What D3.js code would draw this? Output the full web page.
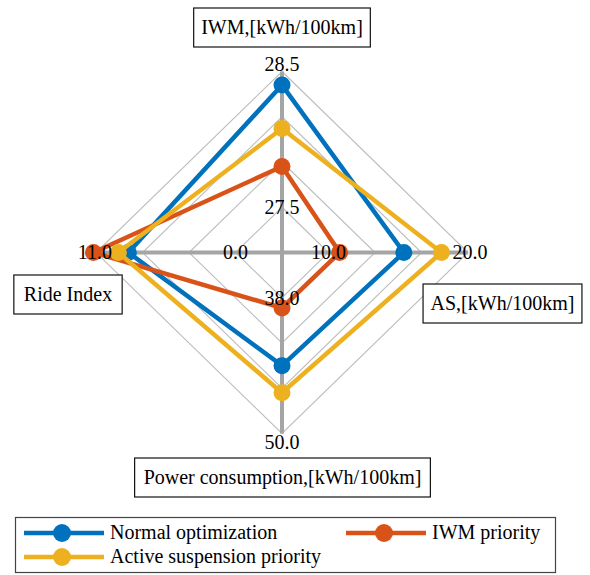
<!DOCTYPE html>
<html>
<head>
<meta charset="utf-8">
<script src="https://cdn.jsdelivr.net/npm/d3@7"></script>
<style>
  html, body { margin: 0; padding: 0; background: #fff; }
  svg { display: block; }
  text { font-family: "Liberation Serif", "Times New Roman", serif; fill: #000; }
</style>
</head>
<body>
<svg id="chart" width="590" height="575"></svg>
<script>
// Axes of the spider chart (clockwise from top)
const axisNames = ["IWM,[kWh/100km]", "AS,[kWh/100km]", "Power consumption,[kWh/100km]", "Ride Index"];
const axisMin = [27.5, 10.0, 38.0, 0.0];
const axisMax = [28.5, 20.0, 50.0, 11.0];

// Series values, one per axis in the order above
const seriesNames = ["Normal optimization", "IWM priority", "Active suspension priority"];
const normalOpt = [28.40, 15.4, 44.0, 8.45];
const iwmPriority = [27.80, 10.8, 38.9, 11.2];
const activeSusp = [28.08, 18.1, 46.4, 9.24];
const seriesColors = ["#0072BD", "#D95319", "#EDB120"];

const svg = d3.select("#chart");
const cx = 282, cy = 252.5;
const rx = 186, ry = 181;          // outer ring half-widths
const nRings = 4;                  // ring 1 = axis min, ring 4 = axis max
const angles = [-Math.PI / 2, 0, Math.PI / 2, Math.PI];

// Normalized radius (0..1) scale per axis: min sits on the first ring
const rScales = axisMin.map((mn, i) =>
  d3.scaleLinear().domain([mn, axisMax[i]]).range([1 / nRings, 1]));

const pt = (i, frac) => [cx + Math.cos(angles[i]) * rx * frac,
                         cy + Math.sin(angles[i]) * ry * frac];

const grid = svg.append("g");
// Rings
for (let k = 1; k <= nRings; k++) {
  const pts = angles.map((a, i) => pt(i, k / nRings));
  grid.append("path")
    .attr("d", d3.line()(pts) + "Z")
    .attr("fill", "none")
    .attr("stroke", "#bdbdbd")
    .attr("stroke-width", 1.1);
}
// Spokes
angles.forEach((a, i) => {
  const [x, y] = pt(i, 1);
  grid.append("line")
    .attr("x1", cx).attr("y1", cy).attr("x2", x).attr("y2", y)
    .attr("stroke", "#a5a5a5").attr("stroke-width", 4);
});

// Series polygons and markers
const allSeries = [normalOpt, iwmPriority, activeSusp];
const lineGen = d3.line().curve(d3.curveLinearClosed);
allSeries.forEach((vals, s) => {
  const pts = vals.map((v, i) => pt(i, rScales[i](v)));
  const g = svg.append("g");
  g.append("path")
    .attr("d", lineGen(pts))
    .attr("fill", "none")
    .attr("stroke", seriesColors[s])
    .attr("stroke-width", 4.5)
    .attr("stroke-linejoin", "miter");
  g.selectAll("circle").data(pts).join("circle")
    .attr("cx", d => d[0]).attr("cy", d => d[1])
    .attr("r", 8.5)
    .attr("fill", seriesColors[s]);
});

// Tick labels (min on first ring, max on outer ring)
const tickG = svg.append("g").attr("font-size", 20);
const outerPad = [7, 2, 9, 1];
angles.forEach((a, i) => {
  const f = d3.format(".1f");
  const [ix, iy] = pt(i, 1 / nRings);
  tickG.append("text").attr("x", ix).attr("y", iy).attr("dy", "0.34em")
    .attr("text-anchor", "middle").text(f(axisMin[i]));
  const [ox, oy] = pt(i, 1);
  tickG.append("text")
    .attr("x", ox + Math.cos(a) * outerPad[i])
    .attr("y", oy + Math.sin(a) * outerPad[i])
    .attr("dy", "0.34em")
    .attr("text-anchor", "middle").text(f(axisMax[i]));
});

// Boxed axis names
const namePos = [[282, 27.5], [502.5, 303.5], [282.5, 477.5], [68, 294.5]];
const namePadX = [7.5, 7.5, 9, 10];
axisNames.forEach((name, i) => {
  const g = svg.append("g");
  const t = g.append("text")
    .attr("x", namePos[i][0]).attr("y", namePos[i][1]).attr("dy", "0.34em")
    .attr("text-anchor", "middle").attr("font-size", 20).text(name);
  const w = t.node().getComputedTextLength();
  const padX = namePadX[i];
  g.insert("rect", "text")
    .attr("x", namePos[i][0] - w / 2 - padX)
    .attr("y", namePos[i][1] - 19.5)
    .attr("width", w + 2 * padX)
    .attr("height", 39)
    .attr("fill", "#fff")
    .attr("stroke", "#111")
    .attr("stroke-width", 1.2);
});

// Legend
const legend = svg.append("g");
legend.append("rect")
  .attr("x", 15.5).attr("y", 517.5).attr("width", 540).attr("height", 55)
  .attr("fill", "#fff").attr("stroke", "#444").attr("stroke-width", 1.2);
const legendPos = [[24, 533], [346, 533], [24, 557]];
seriesNames.forEach((name, s) => {
  const [x, y] = legendPos[s];
  const g = legend.append("g");
  g.append("line").attr("x1", x).attr("x2", x + 80).attr("y1", y).attr("y2", y)
    .attr("stroke", seriesColors[s]).attr("stroke-width", 4.5);
  g.append("circle").attr("cx", x + 38).attr("cy", y).attr("r", 9)
    .attr("fill", seriesColors[s]);
  g.append("text").attr("x", x + 86).attr("y", y).attr("dy", "0.32em")
    .attr("font-size", 20).text(name);
});
</script>
</body>
</html>
